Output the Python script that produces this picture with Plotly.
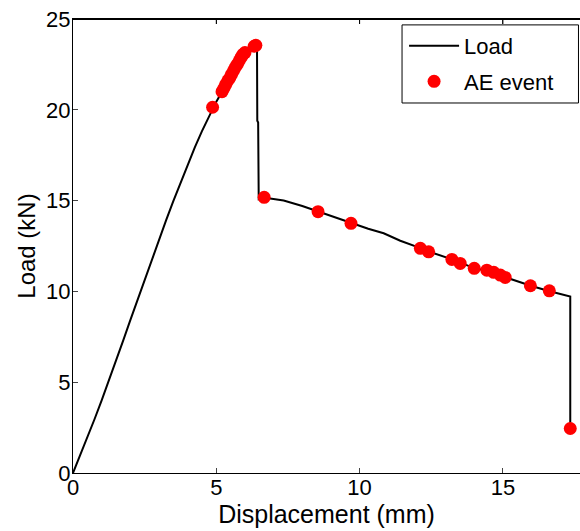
import plotly.graph_objects as go

# Load curve (displacement mm, load kN)
load_x = [0, 0.25, 0.5, 0.75, 1.0, 1.25, 1.5, 1.75, 2.0, 2.25, 2.5, 2.75, 3.0, 3.25, 3.5, 3.75,
          4.0, 4.25, 4.5, 4.75, 4.87, 5.0, 5.2, 5.4, 5.6, 5.8, 6.0, 6.15, 6.3, 6.42,
          6.43, 6.46, 6.48, 6.7, 7.35, 8.0, 8.55, 9.2, 9.7, 10.3, 10.84, 11.42, 12.1, 12.4,
          13.2, 14.0, 14.5, 15.1, 16.0, 16.6, 17.35, 17.35]
load_y = [0, 0.97, 1.96, 2.96, 4.0, 5.07, 6.17, 7.29, 8.42, 9.54, 10.66, 11.76, 12.85, 13.92, 14.97, 15.99,
          16.98, 17.93, 18.83, 19.68, 20.1, 20.45, 21.0, 21.6, 22.15, 22.7, 23.15, 23.35, 23.5, 23.55,
          19.4, 19.3, 15.07, 15.15, 15.0, 14.7, 14.4, 14.05, 13.75, 13.45, 13.2, 12.79, 12.4, 12.2,
          11.78, 11.28, 11.12, 10.77, 10.3, 10.02, 9.72, 2.45]

# AE events
ae_x = [4.87, 5.2, 5.27, 5.33, 5.4, 5.47, 5.53, 5.6, 5.67, 5.73, 5.8, 5.87, 5.93, 6.0, 6.32, 6.38,
        6.67, 8.55, 9.70, 12.12, 12.41, 13.22, 13.51, 14.0, 14.44, 14.68, 14.91, 15.08, 15.96,
        16.62, 17.35]
ae_y = [20.14, 21.0, 21.2, 21.4, 21.6, 21.75, 21.95, 22.15, 22.35, 22.5, 22.7, 22.9, 23.05, 23.15,
        23.5, 23.55, 15.18, 14.39, 13.75, 12.37, 12.18, 11.76, 11.54, 11.27, 11.17, 11.05, 10.9,
        10.77, 10.31, 10.03, 2.45]

x_ticks = [0, 5, 10, 15]
y_ticks = [0, 5, 10, 15, 20, 25]
x_range = [0, 17.69]
y_range = [0, 25]

FONT = "Liberation Sans, Arial, sans-serif"

fig = go.Figure()
fig.add_trace(go.Scatter(x=load_x, y=load_y, mode="lines", name="Load",
                         line=dict(color="black", width=2), legendgroup="a"))
fig.add_trace(go.Scatter(x=ae_x, y=ae_y, mode="markers", name="AE event",
                         marker=dict(color="#ff0000", size=13), legendgroup="b"))

# top frame line and top ticks (box style axes)
fig.add_shape(type="line", xref="paper", yref="paper", x0=0, x1=1, y0=1, y1=1,
              line=dict(color="black", width=2), layer="above")
for t in x_ticks[1:]:
    fig.add_shape(type="line", xref="x", yref="paper", x0=t, x1=t,
                  ysizemode="pixel", yanchor=1, y0=0, y1=-5,
                  line=dict(color="black", width=1), layer="above")

# legend frame
fig.add_shape(type="rect", xref="paper", yref="paper", x0=0.649, x1=0.997, y0=0.815, y1=0.987,
              line=dict(color="black", width=1), fillcolor="white", layer="above")

fig.update_layout(
    width=580, height=531,
    margin=dict(l=73, r=0, t=19, b=58),
    paper_bgcolor="white", plot_bgcolor="white",
    font=dict(family=FONT, size=22, color="black"),
    showlegend=True,
    legend=dict(x=0.653, y=0.987, xanchor="left", yanchor="top",
                borderwidth=0, bgcolor="rgba(0,0,0,0)",
                font=dict(size=22), tracegroupgap=4, itemwidth=50),
    xaxis=dict(range=x_range, tickvals=x_ticks, ticks="inside", ticklen=5,
               showline=True, linecolor="black", linewidth=1, mirror="ticks",
               showgrid=False, zeroline=False, ticklabeloverflow="allow",
               ticklabelstandoff=-5,
               title=dict(text="Displacement (mm)", font=dict(size=25), standoff=4)),
    yaxis=dict(range=y_range, tickvals=y_ticks, ticks="inside", ticklen=5,
               showline=True, linecolor="black", linewidth=1, mirror=False,
               showgrid=False, zeroline=False, ticklabeloverflow="allow",
               ticklabelstandoff=-3,
               title=dict(text="Load (kN)", font=dict(size=24), standoff=3)),
)

fig.write_html("out.html", config={"displayModeBar": False},
               post_script="document.body.style.margin='0';document.body.style.overflow='hidden';")
